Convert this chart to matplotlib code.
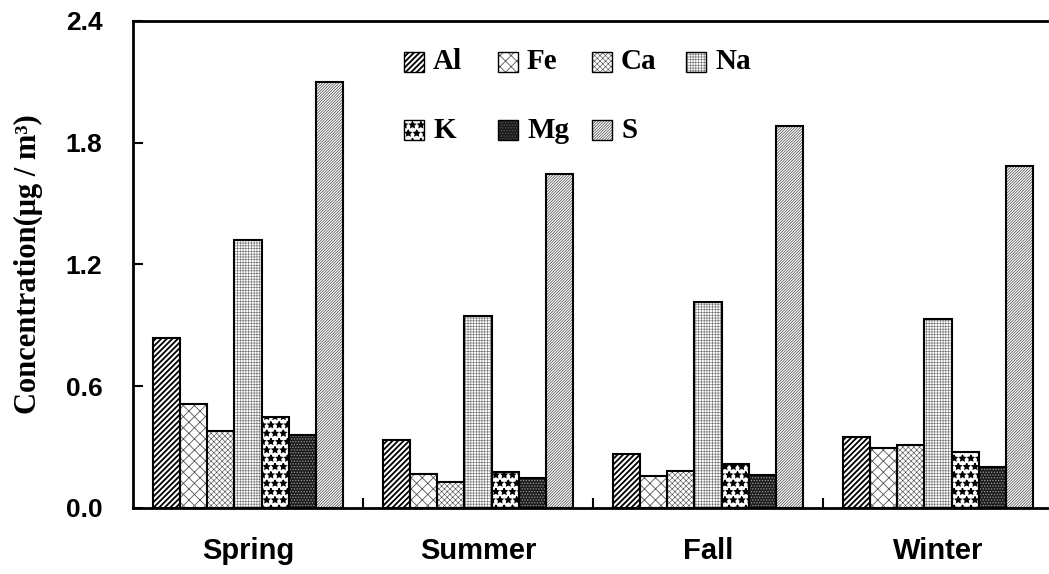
import numpy as np
import matplotlib.pyplot as plt
from matplotlib.patches import Rectangle

seasons = ["Spring", "Summer", "Fall", "Winter"]
elements = ["Al", "Fe", "Ca", "Na", "K", "Mg", "S"]

# concentration per element, one value per season (ug/m3)
al = [0.84, 0.335, 0.268, 0.351]
fe = [0.51, 0.168, 0.159, 0.297]
ca = [0.38, 0.130, 0.182, 0.312]
na = [1.32, 0.946, 1.015, 0.930]
k = [0.45, 0.176, 0.217, 0.274]
mg = [0.36, 0.146, 0.163, 0.200]
s = [2.10, 1.646, 1.883, 1.686]
values = [al, fe, ca, na, k, mg, s]

# facecolor, hatch colour, hatch pattern, hatch line width
styles = [
    ("white", "black", "//////", 1.3),
    ("white", "#555555", "xxx", 0.6),
    ("white", "#444444", "xxxxxx", 0.4),
    ("white", "#777777", "++++++", 0.45),
    ("white", "black", "**", 1.0),
    ("#1c1c1c", "#9a9a9a", "......", 0.6),
    ("white", "#444444", "////////////", 0.5),
]

fig = plt.figure(figsize=(10.49, 5.74), dpi=100)
ax = fig.add_axes([0.1268, 0.115, 0.877, 0.8485])

x = np.arange(len(seasons))
width = 0.118
offsets = (np.arange(len(elements)) - 3) * width

for i, name in enumerate(elements):
    fc, hc, hatch, hlw = styles[i]
    plt.rcParams["hatch.linewidth"] = hlw
    ax.bar(x + offsets[i], values[i], width, color=fc, edgecolor=hc,
           hatch=hatch, linewidth=0, zorder=2)
    # black outline drawn over the hatched fill
    ax.bar(x + offsets[i], values[i], width, fill=False, edgecolor="black",
           linewidth=1.5, zorder=3)

    # legend key: 4 entries on the first row, 3 on the second
    col, row = i % 4, i // 4
    kx = 0.2946 + col * 0.1022
    ky = 0.9158 - row * 0.1398
    ax.add_patch(Rectangle((kx, ky - 0.0205), 0.0217, 0.041,
                           transform=ax.transAxes, facecolor=fc,
                           edgecolor=hc if i != 5 else "#555555",
                           hatch=hatch, linewidth=0, zorder=4))
    ax.add_patch(Rectangle((kx, ky - 0.0205), 0.0217, 0.041,
                           transform=ax.transAxes, fill=False,
                           edgecolor="black", linewidth=1.0, zorder=5))
    ax.text(kx + 0.0315, ky, name, transform=ax.transAxes, ha="left",
            va="center", family="Liberation Serif", fontweight="bold",
            fontsize=21)

ax.set_xlim(-0.5, 3.5)
ax.set_ylim(0, 2.4)
ax.set_yticks([0.0, 0.6, 1.2, 1.8, 2.4])
ax.set_yticklabels(["0.0", "0.6", "1.2", "1.8", "2.4"],
                   fontfamily="Liberation Sans", fontweight="bold", fontsize=19)
ax.set_xticks(x)
ax.set_xticklabels(seasons, fontfamily="Liberation Sans", fontweight="bold",
                   fontsize=21)
ax.set_xticks([0.5, 1.5, 2.5], minor=True)
ax.tick_params(axis="x", which="major", length=0, pad=21)
ax.tick_params(axis="x", which="minor", direction="in", length=7, width=1.5)
ax.tick_params(axis="y", direction="in", length=7, width=1.5, pad=22)

for side in ["left", "bottom", "top"]:
    ax.spines[side].set_linewidth(2)
ax.spines["right"].set_visible(False)

ax.set_ylabel("Concentration(μg / m³)", fontfamily="Liberation Serif",
              fontweight="bold", fontsize=22, labelpad=16)

fig.savefig("out.png", dpi=100)
